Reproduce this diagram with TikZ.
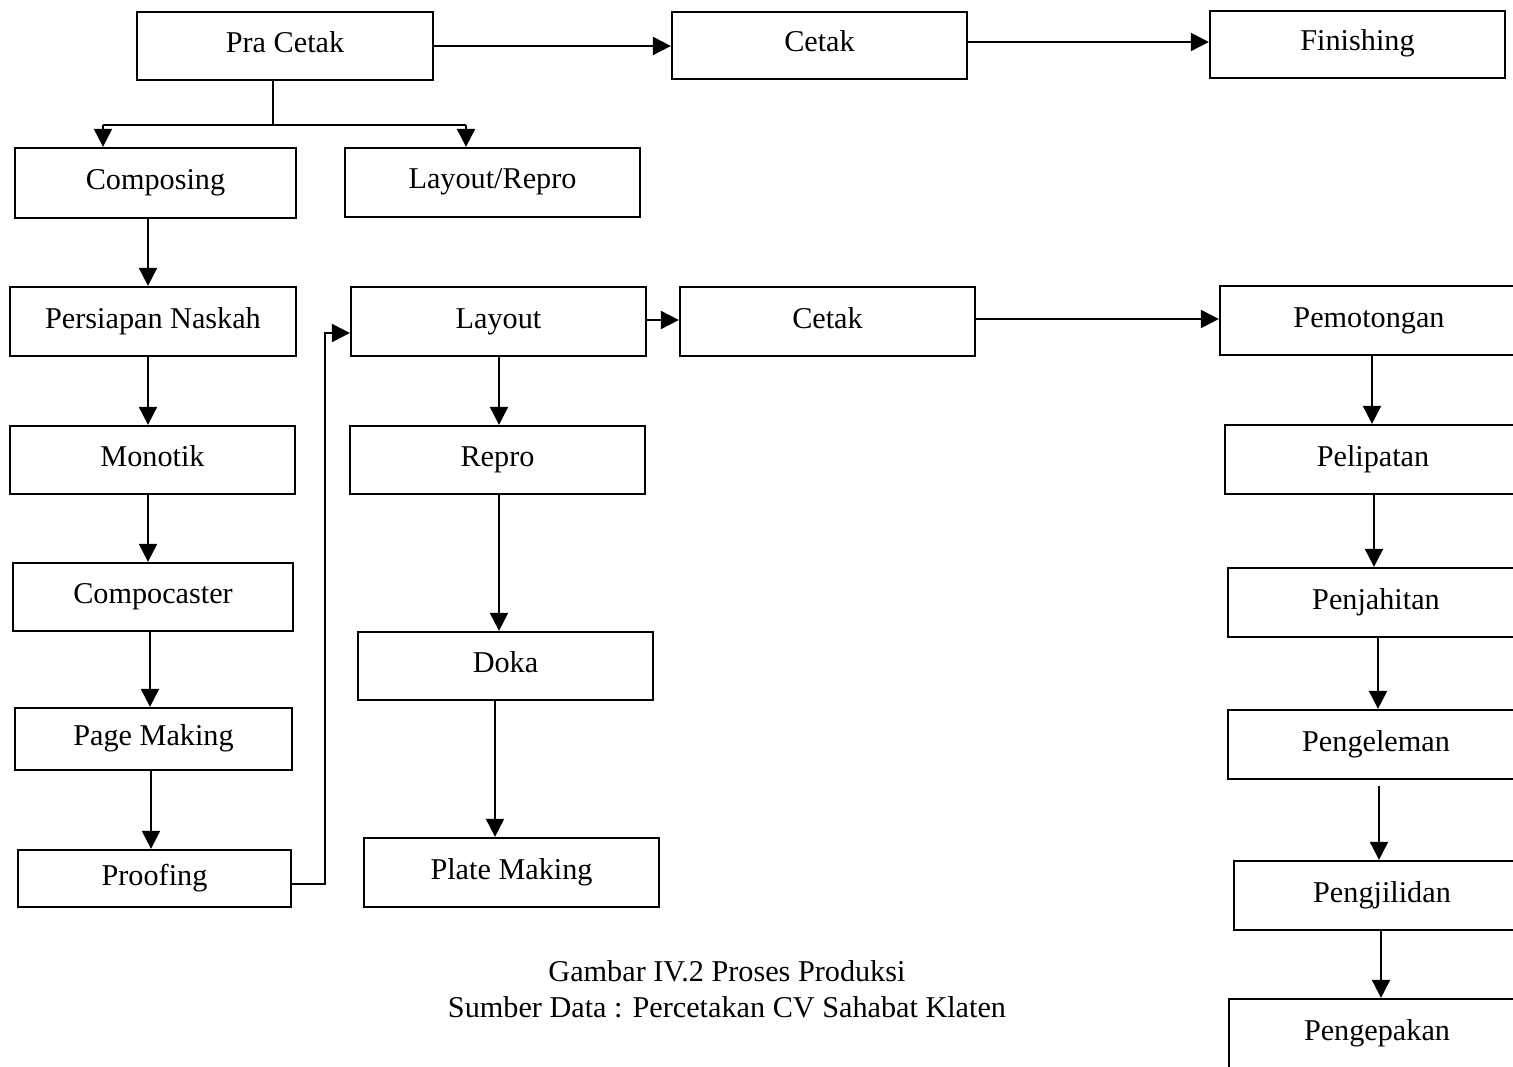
\documentclass[tikz,border=0pt]{standalone}
\usepackage{fontspec}
\setmainfont{Liberation Serif}
\usetikzlibrary{arrows.meta}
\begin{document}
\begin{tikzpicture}[x=0.02cm,y=-0.02cm,
 txt/.style={font=\fontsize{17.2}{20}\selectfont},
 box/.style={txt,draw,line width=1.3pt,inner sep=0pt,text height=0.9em,text depth=0.16em},
 bw/.style={minimum width=#1*0.02cm},
 bh/.style={minimum height=#1*0.02cm},
 arr/.style={line width=1.2pt,-{Triangle[length=0.36cm,width=0.36cm]}},
 ln/.style={line width=1.2pt}]
\useasboundingbox (0,0) rectangle (1513,1067);
\clip (0,0) rectangle (1513,1067);
% top row
\node[box,bw=296,bh=68] (pra) at (285,46) {Pra Cetak};
\node[box,bw=295,bh=67] (cetakA) at (819.5,45.5) {Cetak};
\node[box,bw=295,bh=67] (fin) at (1357.5,44.5) {Finishing};
% second row
\node[box,bw=281,bh=70] (comp) at (155.5,183) {Composing};
\node[box,bw=295,bh=69] (layrep) at (492.5,182.5) {Layout/Repro};
% left column
\node[box,bw=286,bh=69] (pers) at (153,321.5) {Persiapan Naskah};
\node[box,bw=285,bh=68] (mono) at (152.5,460) {Monotik};
\node[box,bw=280,bh=68] (compo) at (153,597) {Compocaster};
\node[box,bw=277,bh=62] (page) at (153.5,739) {Page Making};
\node[box,bw=273,bh=57] (proof) at (154.5,878.5) {Proofing};
% middle column
\node[box,bw=295,bh=69] (layout) at (498.5,321.5) {Layout};
\node[box,bw=295,bh=68] (repro) at (497.5,460) {Repro};
\node[box,bw=295,bh=68] (doka) at (505.5,666) {Doka};
\node[box,bw=295,bh=69] (plate) at (511.5,872.5) {Plate Making};
\node[box,bw=295,bh=69] (cetakB) at (827.5,321.5) {Cetak};
% right column
\node[box,bw=298,bh=69] (pemo) at (1369,320.5) {Pemotongan};
\node[box,bw=296,bh=69] (peli) at (1373,459.5) {Pelipatan};
\node[box,bw=296,bh=69] (penj) at (1376,602.5) {Penjahitan};
\node[box,bw=296,bh=69] (penge) at (1376,744.5) {Pengeleman};
\node[box,bw=296,bh=69] (jilid) at (1382,895.5) {Pengjilidan};
\node[box,bw=296,bh=69] (pack) at (1377,1033.5) {Pengepakan};
% caption
\node[txt,anchor=base] (capA) at (727,981) {Gambar IV.2 Proses Produksi};
\node[txt,anchor=base] (capB) at (727,1017) {Sumber Data : Percetakan CV Sahabat Klaten};
% helper coordinates
\coordinate (xA) at (148,0);
\coordinate (xB) at (150,0);
\coordinate (xC) at (151,0);
\coordinate (xD) at (499,0);
\coordinate (xE) at (495,0);
\coordinate (xF) at (1372,0);
\coordinate (xG) at (1374,0);
\coordinate (xH) at (1378,0);
\coordinate (xI) at (1379,0);
\coordinate (xJ) at (1381,0);
\coordinate (xK) at (273,0);
\coordinate (bus) at (273,125);
\coordinate (busL) at (103,125);
\coordinate (busR) at (466,125);
\coordinate (pb) at (325,884);
\coordinate (py) at (0,333);
% top arrows
\draw[arr] (pra.east) -- (cetakA.west |- pra.east);
\draw[arr] (cetakA.east |- 0,42) -- (fin.west |- 0,42);
% branch from Pra Cetak
\draw[ln] (pra.south -| xK) -- (bus);
\draw[ln] (busL) -- (busR);
\draw[arr] (busL) -- (comp.north -| busL);
\draw[arr] (busR) -- (layrep.north -| busR);
% left column arrows
\draw[arr] (comp.south -| xA) -- (pers.north -| xA);
\draw[arr] (pers.south -| xA) -- (mono.north -| xA);
\draw[arr] (mono.south -| xA) -- (compo.north -| xA);
\draw[arr] (compo.south -| xB) -- (page.north -| xB);
\draw[arr] (page.south -| xC) -- (proof.north -| xC);
% proofing to layout
\draw[arr] (proof.east |- pb) -- (pb) |- (layout.west |- py);
% middle arrows
\draw[arr] (layout.east |- 0,320) -- (cetakB.west |- 0,320);
\draw[arr] (cetakB.east |- 0,319) -- (pemo.west |- 0,319);
\draw[arr] (layout.south -| xD) -- (repro.north -| xD);
\draw[arr] (repro.south -| xD) -- (doka.north -| xD);
\draw[arr] (doka.south -| xE) -- (plate.north -| xE);
% right column arrows
\draw[arr] (pemo.south -| xF) -- (peli.north -| xF);
\draw[arr] (peli.south -| xG) -- (penj.north -| xG);
\draw[arr] (penj.south -| xH) -- (penge.north -| xH);
\draw[arr,shorten <=0.12cm] (penge.south -| xI) -- (jilid.north -| xI);
\draw[arr] (jilid.south -| xJ) -- (pack.north -| xJ);
\end{tikzpicture}
\end{document}
